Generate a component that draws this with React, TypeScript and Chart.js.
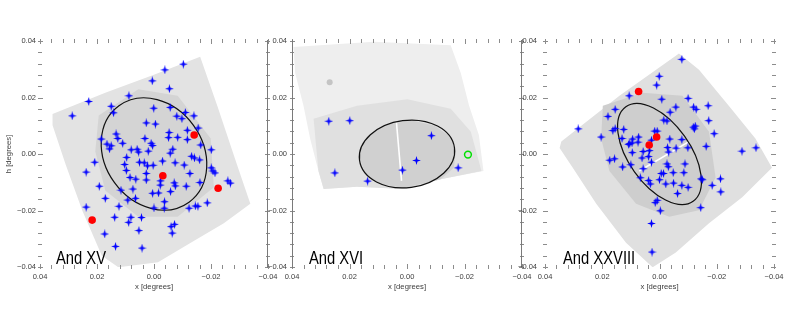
import React, { useEffect, useRef } from "react";
import { Chart, registerables } from "chart.js";
Chart.register(...registerables);

type Pt = [number, number];

// ---------------- axes ----------------
const axisTicks = [0.04, 0.02, 0, -0.02, -0.04];
const minorTicks = [0.04, 0.036, 0.032, 0.028, 0.024, 0.02, 0.016, 0.012, 0.008, 0.004, 0, -0.004, -0.008, -0.012, -0.016, -0.02, -0.024, -0.028, -0.032, -0.036, -0.04];
const xTitle = "x [degrees]";
const yTitle = "h [degrees]";

// ---------------- And XV ----------------
const xvFieldOuter: Pt[] = [
  [0.0356, 0.0142], [0.0171, 0.0217], [-0.0002, 0.0281], [-0.0162, 0.0344], [-0.0222, 0.0171], [-0.0291, -0.0037],
  [-0.0338, -0.0176], [-0.0245, -0.0245], [-0.0129, -0.0314], [-0.0014, -0.0383], [0.0125, -0.0401], [0.0183, -0.036],
  [0.0252, -0.0199], [0.031, -0.0037], [0.0356, 0.0102],
];
const xvFieldDense: Pt[] = [
  [0.0194, 0.0136], [0.0055, 0.0229], [-0.0083, 0.0206], [-0.0199, 0.0055], [-0.021, -0.0118], [-0.0083, -0.0222],
  [0.0055, -0.0222], [0.0171, -0.0129], [0.0206, 0.0009],
];
const xvMembers: Pt[] = [
  [-0.0103, 0.0318], [-0.0038, 0.0298], [0.0006, 0.0259], [-0.0054, 0.0231], [0.0229, 0.0186], [0.0088, 0.0206], [0.0287, 0.0135], [0.015, 0.0169], [0.0142, 0.0146], [0.0001, 0.0162],
  [-0.0057, 0.0165], [-0.008, 0.0134], [-0.011, 0.0147], [-0.0098, 0.0125], [-0.014, 0.0135], [-0.0155, 0.0092], [0.0027, 0.011], [-0.0005, 0.0106], [-0.0117, 0.0084], [-0.0053, 0.0076],
  [0.0185, 0.0053], [0.0133, 0.0071], [0.0127, 0.0055], [0.0032, 0.0055], [-0.0051, 0.0058], [-0.0083, 0.0059], [-0.0117, 0.0051], [0.001, 0.0038], [0.0165, 0.0035], [0.015, 0.0029],
  [0.0156, 0.0018], [0.011, 0.0038], [0.0005, 0.003], [-0.0066, 0.0017], [-0.0164, 0.0032], [-0.0201, 0.0015], [0.008, 0.0015], [0.0059, 0.0017], [0.0054, 0.0007], [0.002, 0.001],
  [-0.0057, 0.0003], [-0.0132, -0.0008], [-0.0142, -0.0014], [0.0096, -0.0012], [0.0051, -0.0029], [0.0034, -0.0031], [-0.003, -0.0025], [-0.0074, -0.0031], [-0.016, -0.0021], [0.0208, -0.0029],
  [0.0103, -0.0037], [0.0023, -0.0042], [0.0003, -0.004], [-0.0106, -0.0039], [-0.0201, -0.0049], [-0.0207, -0.006], [-0.0214, -0.0067], [0.0238, -0.0064], [0.0097, -0.0058], [0.0084, -0.0083],
  [0.0064, -0.0089], [0.0027, -0.0069], [-0.0023, -0.0095], [-0.0126, -0.0069], [0.0027, -0.0092], [-0.0071, -0.0102], [-0.0075, -0.0113], [-0.0113, -0.0114], [-0.0161, -0.0101], [-0.0259, -0.0095],
  [-0.0268, -0.0103], [0.0192, -0.0114], [0.0116, -0.0128], [0.0074, -0.0124], [-0.0022, -0.011], [0.0005, -0.0139], [-0.0016, -0.0138], [-0.0058, -0.0133], [0.0171, -0.0157], [0.0092, -0.0163],
  [0.0065, -0.0157], [-0.0037, -0.0169], [0.0123, -0.0185], [0.0, -0.0191], [-0.0036, -0.0192], [-0.0123, -0.0192], [-0.0145, -0.0184], [-0.0154, -0.0185], [-0.0187, -0.0173], [0.0238, -0.0188],
  [0.0138, -0.0224], [0.0081, -0.0224], [0.0089, -0.0242], [0.0044, -0.0225], [0.0053, -0.0271], [-0.006, -0.0257], [-0.0072, -0.0249], [-0.0064, -0.028], [0.0173, -0.0283], [0.0135, -0.0327],
  [0.0042, -0.0333],
];
const xvRed: Pt[] = [[-0.0141, 0.0067], [-0.0031, -0.0077], [-0.0225, -0.0121], [0.0217, -0.0234]];
const xvEllipse = { cx: 0, cy: 0, a: 0.021, b: 0.0172, angleDeg: 54 };

// ---------------- And XVI ----------------
const xviFieldOuter: Pt[] = [
  [0.0395, 0.0379], [0.0116, 0.0397], [-0.0152, 0.0385], [-0.0187, 0.0287], [-0.0216, 0.0171], [-0.025, 0.0067],
  [-0.0266, -0.006], [-0.0117, -0.0089], [0.0011, -0.0124], [0.0174, -0.0116], [0.029, -0.0124], [0.0308, -0.006],
  [0.0337, 0.0055], [0.036, 0.0171], [0.0389, 0.0287],
];
const xviFieldMid: Pt[] = [
  [0.0325, 0.0125], [0.0174, 0.0171], [-0.0001, 0.0194], [-0.0152, 0.016], [-0.0222, 0.0079], [-0.0259, -0.006],
  [-0.0117, -0.0089], [0.0011, -0.0124], [0.0174, -0.0116], [0.029, -0.0124], [0.0308, -0.006],
];
const xviFieldDense: Pt[] = [
  [0.0156, 0.0032], [0.0116, 0.0079], [0.0058, 0.0107], [-0.0018, 0.0119], [-0.0094, 0.0101], [-0.0152, 0.0061],
  [-0.017, 0.0009], [-0.0163, -0.0049], [-0.0117, -0.0089], [0.0011, -0.012], [0.0092, -0.0106], [0.0145, -0.0072],
  [0.0165, -0.0014],
];
const xviGap: Pt[] = [[0.0037, 0.0116], [0.0019, -0.0095]];
const xviPatch: Pt[] = [[0.0269, 0.0254]];
const xviMembers: Pt[] = [
  [0.0272, 0.0116], [0.0199, 0.0118], [-0.0085, 0.0065], [-0.0033, -0.0023], [0.0016, -0.0057], [-0.0178, -0.0049],
  [0.0251, -0.0067], [0.0137, -0.0096],
];
const xviGreen: Pt[] = [[-0.0212, -0.0002]];
const xviEllipse = { cx: 0, cy: 0, a: 0.0168, b: 0.0118, angleDeg: -7.4 };

// ---------------- And XXVIII ----------------
const xxviiiFieldOuter: Pt[] = [
  [0.0343, 0.0044], [0.014, 0.0206], [-0.0068, 0.0356], [-0.0138, 0.0298], [-0.0242, 0.0171], [-0.0335, 0.0055],
  [-0.0393, -0.0049], [-0.0289, -0.0153], [-0.0173, -0.0245], [-0.0057, -0.0349], [0.0024, -0.0401], [0.0117, -0.0314],
  [0.0221, -0.0176], [0.0303, -0.0049], [0.0349, 0.0021],
];
const xxviiiFieldDense: Pt[] = [
  [0.0198, 0.0171], [0.0059, 0.0217], [-0.008, 0.0206], [-0.0173, 0.0079], [-0.0196, -0.0083], [-0.0138, -0.0199],
  [-0.0034, -0.0222], [0.0082, -0.0176], [0.0175, -0.006], [0.0204, 0.0055],
];
const xxviiiGap: Pt[] = [[0.0071, -0.006], [-0.0103, 0.0044]];
const xxviiiMembers: Pt[] = [
  [-0.0078, 0.0335], [0.0001, 0.0275], [0.001, 0.0244], [0.0106, 0.0206], [-0.0008, 0.0194], [-0.01, 0.0197], [-0.0119, 0.0166], [-0.0128, 0.0158], [-0.0057, 0.0166], [-0.017, 0.0171],
  [0.0155, 0.0158], [0.018, 0.0133], [-0.0037, 0.0148], [-0.0015, 0.012], [-0.0026, 0.0117], [-0.0125, 0.0099], [-0.0172, 0.0118], [0.0284, 0.0089], [0.0163, 0.0083], [0.0155, 0.009],
  [0.0125, 0.0087], [0.0017, 0.0081], [0.0008, 0.0081], [-0.0118, 0.0095], [-0.0122, 0.0089], [-0.0191, 0.0072], [0.0204, 0.006], [0.0131, 0.0055], [0.0094, 0.0053], [0.0073, 0.006],
  [0.0104, 0.0037], [0.0096, 0.0039], [0.0075, 0.0042], [-0.0036, 0.0053], [-0.0078, 0.0051], [0.0028, 0.0049], [0.0108, 0.0034], [-0.0028, 0.0023], [-0.0058, 0.0021], [-0.0099, 0.0022],
  [-0.0163, 0.0027], [-0.0288, 0.001], [-0.0337, 0.0022], [0.0095, 0.0005], [0.0057, 0.0009], [0.0035, 0.0012], [-0.0032, 0.0007], [0.0174, -0.0022], [0.0157, -0.0017], [0.0061, -0.0014],
  [0.0038, -0.0009], [0.0028, -0.0029], [-0.0026, -0.0035], [-0.0031, -0.0045], [-0.0089, -0.0035], [0.0129, -0.0046], [0.01, -0.0038], [0.0057, -0.0052], [-0.0006, -0.0069], [-0.0014, -0.0069],
  [-0.0048, -0.0066], [-0.0085, -0.0066], [0.0067, -0.0084], [0.0038, -0.0094], [0.0032, -0.0106], [0.0, -0.0091], [-0.0022, -0.0106], [-0.0049, -0.0103], [-0.0063, -0.014], [-0.0078, -0.0111],
  [-0.01, -0.0118], [-0.0145, -0.0088], [-0.015, -0.0091], [-0.0184, -0.0111], [-0.0213, -0.0088], [-0.0214, -0.0134], [0.0008, -0.0164], [0.0015, -0.0172], [-0.0003, -0.0201], [-0.0144, -0.019],
  [0.0028, -0.0246], [0.0026, -0.0347],
];
const xxviiiRed: Pt[] = [[0.0073, 0.0221], [0.001, 0.006], [0.0036, 0.0032]];
const xxviiiEllipse = { cx: 0, cy: 0, a: 0.0204, b: 0.0108, angleDeg: 54.6 };

const panelNames = ["And XV", "And XVI", "And XXVIII"];

// ---------------- rendering ----------------
const FONT = '"Liberation Sans", Arial, sans-serif';

function fmt(v: any) {
  const n = Number(v);
  const s = Math.abs(n).toFixed(2);
  return n < -1e-9 ? "\u2212" + s : s;
}

function toXY(pts: Pt[]) {
  return pts.map(([x, y]) => ({ x, y }));
}

function makeStar() {
  const c = document.createElement("canvas");
  c.width = 9;
  c.height = 9;
  const g = c.getContext("2d")!;
  g.fillStyle = "#0000ff";
  g.beginPath();
  for (let i = 0; i < 8; i++) {
    const r = i % 2 === 0 ? 4.4 : 1.4;
    const a = (i * Math.PI) / 4 - Math.PI / 2;
    const px = 4.5 + r * Math.cos(a);
    const py = 4.5 + r * Math.sin(a);
    if (i === 0) g.moveTo(px, py);
    else g.lineTo(px, py);
  }
  g.closePath();
  g.fill();
  return c;
}

type PanelDef = {
  name: string;
  fields: { pts: Pt[]; color: string }[];
  gap?: Pt[];
  patch?: Pt[];
  members: Pt[];
  red?: Pt[];
  green?: Pt[];
  ellipse: { cx: number; cy: number; a: number; b: number; angleDeg: number };
};

const panels: PanelDef[] = [
  {
    name: panelNames[0],
    fields: [
      { pts: xvFieldOuter, color: "#e3e3e3" },
      { pts: xvFieldDense, color: "#d4d4d4" },
    ],
    members: xvMembers,
    red: xvRed,
    ellipse: xvEllipse,
  },
  {
    name: panelNames[1],
    fields: [
      { pts: xviFieldOuter, color: "#eeeeee" },
      { pts: xviFieldMid, color: "#e0e0e0" },
      { pts: xviFieldDense, color: "#d0d0d0" },
    ],
    gap: xviGap,
    patch: xviPatch,
    members: xviMembers,
    green: xviGreen,
    ellipse: xviEllipse,
  },
  {
    name: panelNames[2],
    fields: [
      { pts: xxviiiFieldOuter, color: "#e0e0e0" },
      { pts: xxviiiFieldDense, color: "#cecece" },
    ],
    gap: xxviiiGap,
    members: xxviiiMembers,
    red: xxviiiRed,
    ellipse: xxviiiEllipse,
  },
];

type PanelProps = {
  def: PanelDef;
  left: number;
  width: number;
  yWidth: number;
  padRight: number;
  labelPad: number;
  showYTitle: boolean;
  lines: string[];
  textOffset: number;
};

function Panel(p: PanelProps) {
  const ref = useRef<HTMLCanvasElement>(null);
  useEffect(() => {
    const canvas = ref.current!;
    const star = makeStar();
    const def = p.def;
    const datasets: any[] = [];
    def.fields.forEach((f, i) => {
      datasets.push({
        type: "line",
        label: "field" + i,
        data: toXY([...f.pts, f.pts[0]]),
        fill: "shape",
        backgroundColor: f.color,
        borderColor: "rgba(0,0,0,0)",
        borderWidth: 0,
        pointRadius: 0,
        tension: 0,
        order: 30 - i,
      });
    });
    if (def.gap) {
      datasets.push({
        type: "line",
        label: "gap",
        data: toXY(def.gap),
        fill: false,
        borderColor: "#ffffff",
        borderWidth: 1.6,
        pointRadius: 0,
        order: 12,
      });
    }
    if (def.patch) {
      datasets.push({
        type: "scatter",
        label: "patch",
        data: toXY(def.patch),
        pointRadius: 3,
        backgroundColor: "#c4c4c4",
        borderWidth: 0,
        order: 11,
      });
    }
    datasets.push({
      type: "scatter",
      label: "members",
      data: toXY(def.members),
      pointStyle: star,
      pointRadius: 4,
      order: 3,
    });
    if (def.red) {
      datasets.push({
        type: "scatter",
        label: "red",
        data: toXY(def.red),
        pointStyle: "circle",
        pointRadius: 3.8,
        backgroundColor: "#ff0000",
        borderWidth: 0,
        order: 2,
      });
    }
    if (def.green) {
      datasets.push({
        type: "scatter",
        label: "green",
        data: toXY(def.green),
        pointStyle: "circle",
        pointRadius: 3.4,
        backgroundColor: "rgba(0,0,0,0)",
        borderColor: "#00e000",
        borderWidth: 1.5,
        order: 1,
      });
    }

    const decor = {
      id: "decor" + def.name.replace(/\s/g, ""),
      beforeDatasetDraw(chart: any, args: any) {
        const ds = chart.data.datasets[args.index];
        if (ds.label !== "members") return;
        const e = def.ellipse;
        const xs = chart.scales.x;
        const ys = chart.scales.y;
        const cx = xs.getPixelForValue(e.cx);
        const cy = ys.getPixelForValue(e.cy);
        const kx = Math.abs(xs.getPixelForValue(0.01) - xs.getPixelForValue(0)) / 0.01;
        const ky = Math.abs(ys.getPixelForValue(0.01) - ys.getPixelForValue(0)) / 0.01;
        const k = (kx + ky) / 2;
        const ctx = chart.ctx;
        ctx.save();
        ctx.beginPath();
        ctx.ellipse(cx, cy, e.a * k, e.b * k, (e.angleDeg * Math.PI) / 180, 0, Math.PI * 2);
        ctx.strokeStyle = "#111111";
        ctx.lineWidth = 1.2;
        ctx.stroke();
        ctx.restore();
      },
      afterDraw(chart: any) {
        const ctx = chart.ctx;
        const xs = chart.scales.x;
        const ys = chart.scales.y;
        const { left, right, top, bottom } = chart.chartArea;
        ctx.save();
        ctx.strokeStyle = "#8c8c8c";
        ctx.lineWidth = 1;
        ctx.beginPath();
        minorTicks.forEach((v) => {
          const major = Math.abs(Math.round(v / 0.02) * 0.02 - v) < 1e-9;
          const len = major ? 3 : 2;
          const px = Math.round(xs.getPixelForValue(v)) + 0.5;
          ctx.moveTo(px, top - 2);
          ctx.lineTo(px, top + len);
          ctx.moveTo(px, bottom + 2);
          ctx.lineTo(px, bottom - len);
          const py = Math.round(ys.getPixelForValue(v)) + 0.5;
          ctx.moveTo(left - 2, py);
          ctx.lineTo(left + len, py);
          ctx.moveTo(right + 2, py);
          ctx.lineTo(right - len, py);
        });
        ctx.stroke();
        ctx.strokeStyle = "#7a7a7a";
        ctx.beginPath();
        if (p.lines.includes("left")) {
          ctx.moveTo(Math.round(left) + 0.5, top - 1);
          ctx.lineTo(Math.round(left) + 0.5, bottom + 1);
        }
        if (p.lines.includes("right")) {
          ctx.moveTo(Math.round(right) - 0.5, top - 1);
          ctx.lineTo(Math.round(right) - 0.5, bottom + 1);
        }
        ctx.stroke();
        // panel name (narrow sans, like Arial Narrow)
        ctx.fillStyle = "#000000";
        ctx.font = "18px " + FONT;
        ctx.textBaseline = "alphabetic";
        ctx.textAlign = "left";
        ctx.translate(left + p.textOffset, bottom - 3);
        ctx.scale(0.82, 1);
        ctx.fillText(def.name, 0, 0);
        ctx.restore();
      },
    };

    const tickFont = { family: FONT, size: 7.5 };
    const chart = new Chart(canvas, {
      type: "scatter",
      data: { datasets },
      options: {
        animation: false,
        responsive: false,
        events: [],
        layout: { padding: { left: 0, right: p.padRight, top: 41, bottom: 25 } },
        plugins: { legend: { display: false }, tooltip: { enabled: false } },
        scales: {
          x: {
            type: "linear",
            min: -0.04,
            max: 0.04,
            reverse: true,
            afterBuildTicks: (s: any) => {
              s.ticks = axisTicks.map((v) => ({ value: v }));
            },
            afterFit: (s: any) => {
              s.height = 25;
            },
            ticks: { autoSkip: false, maxRotation: 0, minRotation: 0, padding: 5, font: tickFont, color: "#3c3c3c", callback: fmt },
            grid: { display: false, drawTicks: false },
            border: { display: false },
            title: { display: true, text: xTitle, padding: { top: 0, bottom: 0 }, font: { family: FONT, size: 7.7 }, color: "#3c3c3c" },
          },
          y: {
            type: "linear",
            min: -0.04,
            max: 0.04,
            afterBuildTicks: (s: any) => {
              s.ticks = axisTicks.map((v) => ({ value: v }));
            },
            afterFit: (s: any) => {
              s.width = p.yWidth;
            },
            ticks: { autoSkip: false, padding: p.labelPad, font: tickFont, color: "#3c3c3c", callback: fmt },
            grid: { display: false, drawTicks: false },
            border: { display: false },
            title: { display: p.showYTitle, text: yTitle, padding: { top: 4, bottom: 0 }, font: { family: FONT, size: 7.7 }, color: "#3c3c3c" },
          },
        },
      } as any,
      plugins: [decor as any],
    });
    return () => chart.destroy();
  }, []);
  return (
    <canvas
      ref={ref}
      width={p.width}
      height={317}
      style={{ position: "absolute", left: p.left, top: 0, width: p.width, height: 317 }}
    />
  );
}

export default function App() {
  return (
    <div style={{ position: "absolute", left: 0, top: 0, width: 791, height: 317, background: "#ffffff", overflow: "hidden" }}>
      <Panel def={panels[0]} left={0} width={284} yWidth={40} padRight={16} labelPad={4} showYTitle={true} lines={["right"]} textOffset={16} />
      <Panel def={panels[1]} left={262} width={276} yWidth={30} padRight={16} labelPad={5} showYTitle={false} lines={["left", "right"]} textOffset={17} />
      <Panel def={panels[2]} left={515} width={276} yWidth={30} padRight={17} labelPad={8} showYTitle={false} lines={[]} textOffset={18} />
    </div>
  );
}
